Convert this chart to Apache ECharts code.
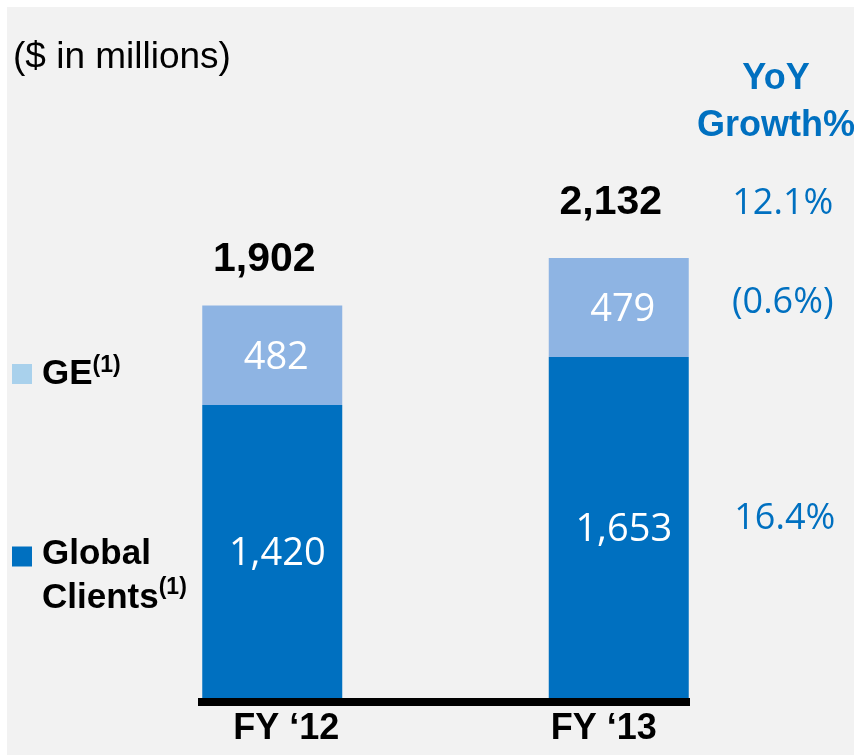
<!DOCTYPE html>
<html>
<head>
<meta charset="utf-8">
<script src="https://cdn.jsdelivr.net/npm/echarts@6/dist/echarts.min.js"></script>
<style>
  html, body { margin: 0; padding: 0; background: #fff; }
  #main { width: 854px; height: 755px; }
</style>
</head>
<body>
<div id="main"></div>
<script>
// data
var years = ['FY \u201812', 'FY \u201813'];
var globalClients = [1420, 1653];
var ge = [482, 479];
var totals = [1902, 2132];
// YoY growth for FY13: total, GE, Global Clients
var growth = ['12.1%', '(0.6%)', '16.4%'];

var ARIAL = "'Liberation Sans', Arial, sans-serif";
var SOFT = "'Open Sans', 'Noto Sans', sans-serif";
var BLUE = '#0070c0';

var myChart = echarts.init(document.getElementById('main'));

function fmt(v) {
    return v.toLocaleString('en-US');
}

// total labels sit a bit unevenly above the bars in the original
var totalGap = [25, 35];
var totalItems = totals.map(function (v, i) {
    return { value: v, label: { distance: totalGap[i] } };
});

// growth labels sit to the right of the FY13 bar, next to each segment
var growthPoints = [
    { value: [1, totals[1]], label: { offset: [164, -54] } },
    { value: [1, globalClients[1] + ge[1] / 2], label: { offset: [164, -5] } },
    { value: [1, globalClients[1] / 2], label: { offset: [166, -9] } }
];

option = {
    backgroundColor: '#fff',
    animation: false,
    grid: {
        left: 99,
        right: 62,
        top: 79,
        bottom: 57
    },
    legend: [
        {
            left: 12,
            top: 354,
            padding: 0,
            selectedMode: false,
            itemWidth: 20,
            itemHeight: 20,
            data: [{ name: 'GE', icon: 'rect', itemStyle: { color: '#a9d1ec' } }],
            formatter: '{b|GE}{s|(1)}',
            textStyle: {
                rich: {
                    b: { fontFamily: ARIAL, fontWeight: 'bold', fontSize: 35, color: '#000', lineHeight: 40, padding: [0, 0, 0, 5] },
                    s: { fontFamily: ARIAL, fontWeight: 'bold', fontSize: 23, color: '#000', verticalAlign: 'top', lineHeight: 40 }
                }
            }
        },
        {
            left: 12,
            top: 537,
            padding: 0,
            selectedMode: false,
            itemWidth: 20,
            itemHeight: 60,
            // square at the top of a tall icon box so it lines up with "Global"
            data: [{ name: 'Global Clients', icon: 'path://M0,0H20V20H0Z M0,60H20V60.01H0Z', itemStyle: { color: BLUE } }],
            formatter: '{b|Global}\n{b|Clients}{s|(1)}',
            textStyle: {
                rich: {
                    b: { fontFamily: ARIAL, fontWeight: 'bold', fontSize: 35, color: '#000', lineHeight: 44, padding: [0, 0, 0, 5] },
                    s: { fontFamily: ARIAL, fontWeight: 'bold', fontSize: 23, color: '#000', verticalAlign: 'top', lineHeight: 44 }
                }
            }
        }
    ],
    xAxis: {
        type: 'category',
        data: years,
        axisLine: { show: false },
        axisTick: { show: false },
        axisLabel: {
            margin: 13,
            formatter: function (v, i) {
                return i === 0 ? '{a|' + v + '}' : '{c|' + v + '}';
            },
            rich: {
                a: { fontFamily: ARIAL, fontWeight: 'bold', fontSize: 36, color: '#000', padding: [0, 0, 0, 28] },
                c: { fontFamily: ARIAL, fontWeight: 'bold', fontSize: 36, color: '#000', padding: [0, 30, 0, 0] }
            }
        }
    },
    yAxis: {
        type: 'value',
        min: 0,
        max: 3000,
        show: false
    },
    graphic: [
        // light grey panel
        { type: 'rect', z: -10, shape: { x: 7, y: 7, width: 860, height: 760 }, style: { fill: '#f2f2f2' } },
        // thick baseline under the bars
        { type: 'rect', z: 10, shape: { x: 198, y: 698, width: 492, height: 8 }, style: { fill: '#000' } },
        {
            type: 'text', left: 13, top: 39,
            style: { text: '($ in millions)', font: '37px ' + ARIAL, fill: '#000' }
        },
        {
            type: 'text', x: 776, y: 56,
            style: {
                text: 'YoY\nGrowth%', font: 'bold 36px ' + ARIAL, fill: BLUE,
                align: 'center', lineHeight: 47
            }
        }
    ],
    series: [
        {
            name: 'Global Clients',
            type: 'bar',
            stack: 'rev',
            barWidth: 140,
            data: globalClients,
            itemStyle: { color: BLUE },
            label: {
                show: true,
                position: 'inside',
                offset: [5, 3],
                color: '#fff',
                fontFamily: SOFT,
                fontSize: 38,
                formatter: function (p) { return fmt(p.value); }
            }
        },
        {
            name: 'GE',
            type: 'bar',
            stack: 'rev',
            barWidth: 140,
            data: ge,
            itemStyle: { color: '#8eb4e3' },
            label: {
                show: true,
                position: 'inside',
                offset: [4, 3],
                color: '#fff',
                fontFamily: SOFT,
                fontSize: 38,
                formatter: function (p) { return fmt(p.value); }
            }
        },
        {
            name: 'Total',
            type: 'scatter',
            data: totalItems,
            symbolSize: 1,
            itemStyle: { color: 'rgba(0,0,0,0)', opacity: 1 },
            label: {
                show: true,
                position: 'top',
                offset: [-8, 0],
                color: '#000',
                opacity: 1,
                fontFamily: ARIAL,
                fontWeight: 'bold',
                fontSize: 41,
                lineHeight: 40,
                formatter: function (p) { return fmt(p.value); }
            }
        },
        {
            name: 'Growth',
            type: 'scatter',
            data: growthPoints,
            symbolSize: 1,
            itemStyle: { color: 'rgba(0,0,0,0)', opacity: 1 },
            label: {
                show: true,
                position: 'inside',
                color: BLUE,
                opacity: 1,
                fontFamily: SOFT,
                fontSize: 36,
                formatter: function (p) { return growth[p.dataIndex]; }
            }
        }
    ]
};

myChart.setOption(option);
</script>
</body>
</html>
